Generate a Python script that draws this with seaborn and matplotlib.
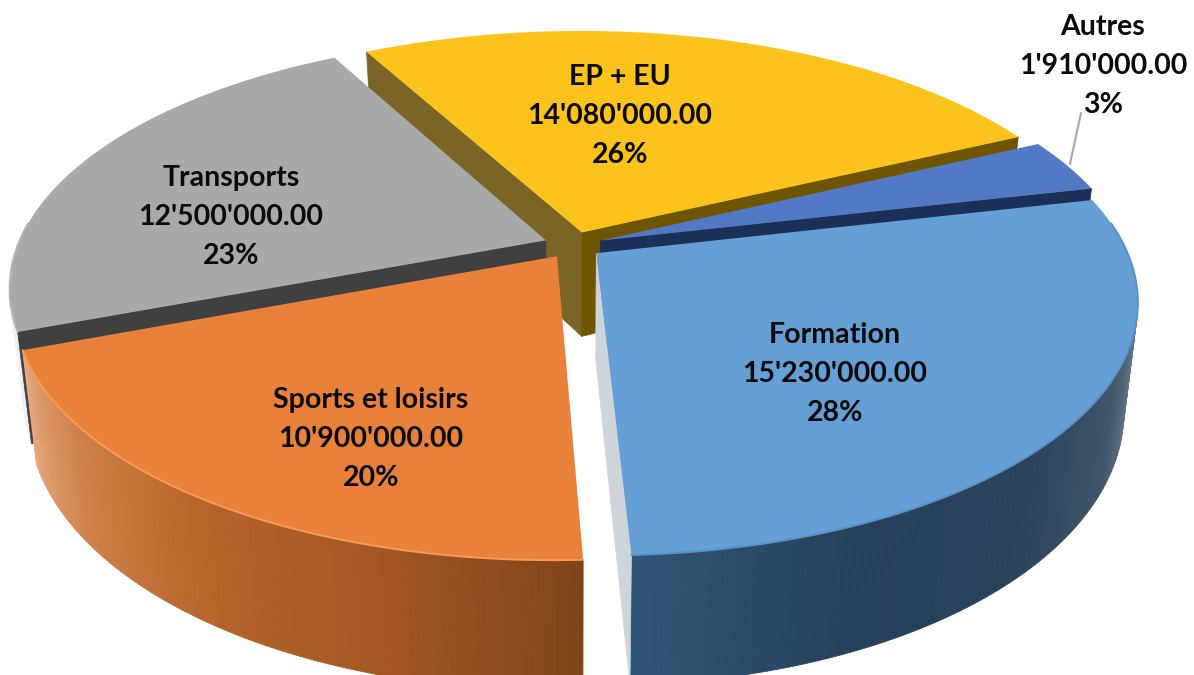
# library
import numpy as np
import seaborn as sns
import matplotlib.pyplot as plt

sns.set_theme(style='white')
plt.rcParams['font.family'] = ['Lato', 'DejaVu Sans']

# data, clockwise from the right
categories = ['Formation', 'Sports et loisirs', 'Transports', 'EP + EU', 'Autres']
amounts = [15230000.0, 10900000.0, 12500000.0, 14080000.0, 1910000.0]

top_colors = ['#659fd6', '#ea813b', '#a9a9a9', '#fdc31d', '#5279c6']
# only the cut faces the camera can see
start_face = [None, None, '#404040', '#7a6526', None]
end_face = ['#ced5da', None, None, '#6e5600', '#1c3057']
wall_colors = [['#9fb0bd', '#8494a3', '#41566a', '#2a4259', '#27405c', '#2f5474'],
               ['#7f431a', '#a35723', '#b5642b', '#cc7f45', '#e6a87e'],
               ['#f2f2f2', '#e0e0e0'],
               ['#7a6526', '#7a6526'],
               ['#3f6396', '#3f6396']]
rim_colors = ['#5a91c6', '#f79a55', '#b5b5b5', '#fdc31d', '#5279c6']

# label boxes in pixels
label_x = [835, 371, 231, 620, 1103]
label_y = [374, 439, 217, 116, 66]

# camera
cx, cy = 573, 245
R, Ry = 528, 243
k = 0.185
explode = 0.055
height = 105
shrink = 0.975
start_angle = 13.0


def project(u, v, z=0.0):
    w = 1 + k * v
    sx = cx + (R * u / w) * (1 - (1 - shrink) * z)
    sy = cy + (-Ry * v + height * z) / w
    return sx, sy


fig = plt.figure(figsize=(11.94, 6.75), dpi=100)
ax = fig.add_axes([0, 0, 1, 1])
ax.set_xlim(0, 1194)
ax.set_ylim(675, 0)
ax.axis('off')

amounts = np.array(amounts)
shares = amounts / amounts.sum()
edges = start_angle - np.concatenate([[0], np.cumsum(shares)]) * 360

# back to front
order = [3, 2, 4, 0, 1]
for i in order:
    a0, a1 = np.radians(edges[i]), np.radians(edges[i + 1])
    mid = (a0 + a1) / 2
    ou, ov = explode * np.cos(mid), explode * np.sin(mid)
    t = np.linspace(a0, a1, 120)
    u, v = ou + np.cos(t), ov + np.sin(t)
    base = order.index(i) * 4

    # outer wall, shaded along the arc
    cmap = sns.blend_palette(wall_colors[i], as_cmap=True)
    for j in range(len(t) - 1):
        if np.sin((t[j] + t[j + 1]) / 2) > 0.02:
            continue
        xt, yt = project(u[j:j + 2], v[j:j + 2])
        xb, yb = project(u[j:j + 2], v[j:j + 2], 1)
        ax.fill(np.r_[xt, xb[::-1]], np.r_[yt, yb[::-1]], color=cmap(j / (len(t) - 2)),
                lw=0.6, zorder=base + 1)

    # cut faces
    for a, col in ((a0, start_face[i]), (a1, end_face[i])):
        if col is None:
            continue
        eu, ev = ou + np.cos(a), ov + np.sin(a)
        x0, y0 = project(ou, ov)
        x1, y1 = project(eu, ev)
        x2, y2 = project(eu, ev, 1)
        x3, y3 = project(ou, ov, 1)
        ax.fill([x0, x1, x2, x3], [y0, y1, y2, y3], color=col, lw=0.5, zorder=base + 2)

    # top face and its soft rim
    xt, yt = project(np.r_[ou, u], np.r_[ov, v])
    ax.fill(xt, yt, color=top_colors[i], lw=0, zorder=base + 3)
    xr, yr = project(u[v < 0.1], v[v < 0.1])
    ax.plot(xr, yr, color=rim_colors[i], lw=1.4, zorder=base + 3)

    value = f"{amounts[i]:,.2f}".replace(',', "'")
    ax.text(label_x[i], label_y[i], f"{categories[i]}\n{value}\n{shares[i] * 100:.0f}%",
            ha='center', va='center', fontsize=20.5, fontweight='bold', color='#0a0a0a',
            linespacing=1.62, zorder=40)

# leader line of the small slice
ax.plot([1081, 1070], [113, 164], color='#a6a6a6', lw=1.5, zorder=39)

fig.savefig('out.png', dpi=100)
